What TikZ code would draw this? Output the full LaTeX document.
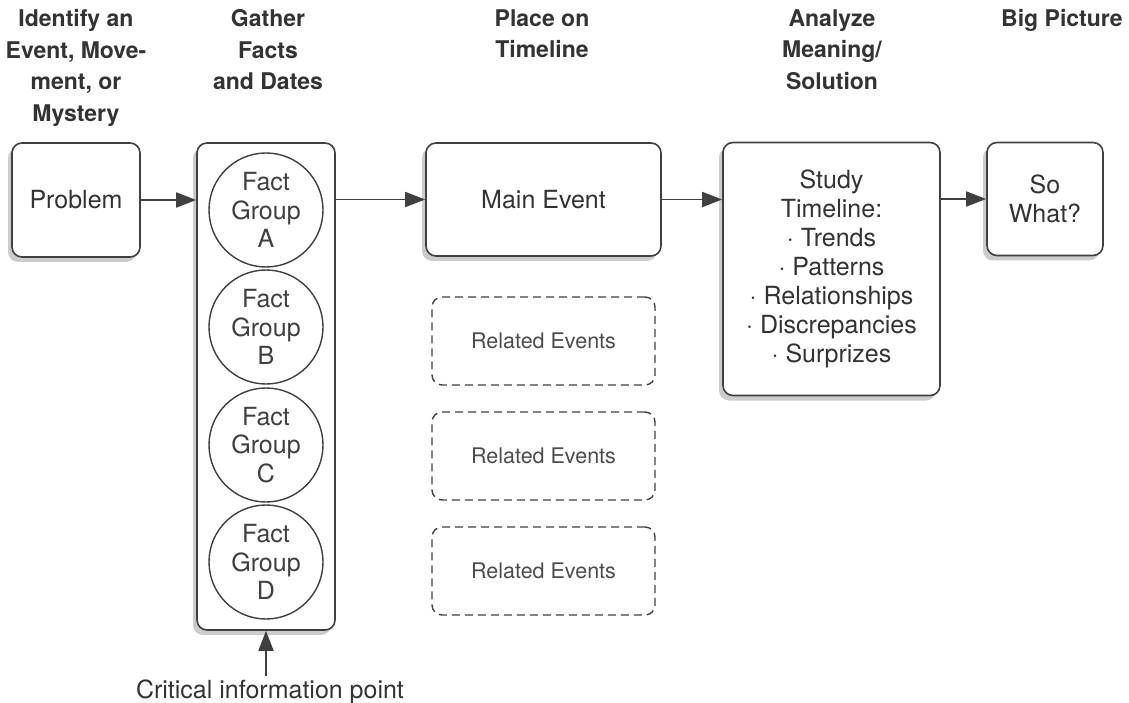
\documentclass[tikz,border=0pt]{standalone}
\usepackage{fontspec}
\setmainfont{TeX Gyre Heros}
\usetikzlibrary{arrows.meta,shadows}
\tikzset{
  stage/.style={draw=black!75, line width=1.6pt, rounded corners=10pt, fill=white,
      align=center, text=black!80, font=\fontsize{25}{29}\selectfont,
      drop shadow={shadow xshift=-4pt, shadow yshift=-5pt, fill=black!40}},
  fact group/.style={draw=black!75, line width=1.4pt, circle, minimum size=114pt,
      inner sep=0pt, align=center, text=black!75, font=\fontsize{25}{28.5}\selectfont},
  related/.style={draw=black!75, line width=1.4pt, dash pattern=on 8pt off 5pt,
      rounded corners=10pt, minimum width=223pt, minimum height=88pt,
      text=black!70, font=\fontsize{21.5}{26}\selectfont},
  heading/.style={anchor=north, inner sep=0pt, align=center, text=black!80,
      font=\fontsize{23}{31.5}\selectfont\bfseries},
  flow/.style={draw=black!75, line width=1.8pt, -{Triangle[length=20pt,width=15pt]}}
}

\begin{document}
\begin{tikzpicture}[x=1pt,y=-1pt]
\useasboundingbox (0,0) rectangle (1129,703);
% column headings
\node[heading] (headIdentify) at (76,9.5) {Identify an\\Event, Move-\\ment, or\\Mystery};
\node[heading] (headGather) at (268,9.5) {Gather\\Facts\\and Dates};
\node[heading] (headPlace) at (542,9.5) {Place on\\Timeline};
\node[heading] (headAnalyze) at (832,9.5) {Analyze\\Meaning/\\Solution};
\node[heading] (headBig) at (1062,9.5) {Big Picture};

\node[stage, minimum width=128pt, minimum height=114pt] (problem) at (76,200) {Problem};
\node[stage, minimum width=138pt, minimum height=487pt] (facts) at (266,386.5) {};
\foreach \g/\y in {A/210,B/327,C/445,D/562}
  \node[fact group] (fact\g) at (266,\y) {Fact\\Group\\\g};
\node[stage, minimum width=235pt, minimum height=113pt] (main) at (543.5,199.5) {Main Event};
\foreach \n/\y in {1/341,2/456,3/571}
  \node[related] (related\n) at (543.5,\y) {Related Events};
\node[stage, minimum width=217pt, minimum height=253pt] (study) at (831.5,269)
  {Study\\Timeline:\\· Trends\\· Patterns\\· Relationships\\· Discrepancies\\· Surprizes};
\node[stage, minimum width=116pt, minimum height=113pt] (sowhat) at (1045,199) {So\\What?};
\node[text=black!80, font=\fontsize{25}{29}\selectfont] (critical) at (270,692) {Critical information point};

\draw[flow] (problem) -- (facts.west |- problem);
\draw[flow] (facts.east |- main) -- (main);
\draw[flow] (main) -- (study.west |- main);
\draw[flow] (study.east |- sowhat) -- (sowhat);
\draw[flow] (critical.north -| facts.south) -- (facts.south);
\end{tikzpicture}
\end{document}
